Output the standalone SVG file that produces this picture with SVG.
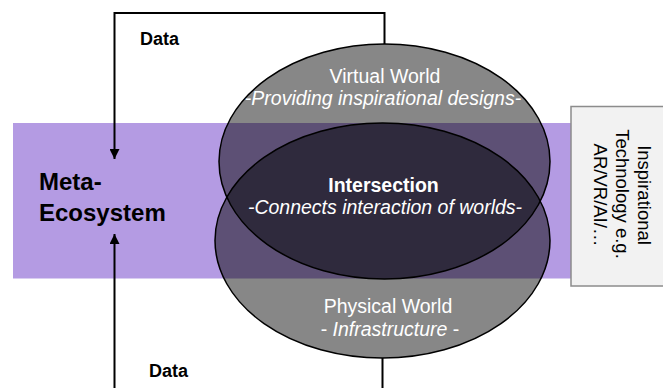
<svg xmlns="http://www.w3.org/2000/svg" width="663" height="388" viewBox="0 0 663 388">
  <style>
    text { font-family: "Liberation Sans", Arial, sans-serif; }
    .lbl { font-size: 18px; font-weight: bold; fill: #000; }
    .meta { font-size: 24px; font-weight: bold; fill: #000; }
    .wt { font-size: 19.5px; fill: #fff; text-anchor: middle; }
    .it { font-style: italic; }
    .bd { font-weight: bold; }
    .box { font-size: 18.5px; fill: #000; text-anchor: middle; }
    .conn { fill: none; stroke: #000; stroke-width: 2; }
    .edge { fill: none; stroke: #000; stroke-width: 1.5; }
  </style>
  <defs>
    <marker id="arrow" markerUnits="userSpaceOnUse" markerWidth="10" markerHeight="10" refX="10" refY="5" orient="auto">
      <path d="M0,0 L10,5 L0,10 z" fill="#000"/>
    </marker>
    <clipPath id="bandClip">
      <rect x="13" y="123" width="558" height="155.5"/>
    </clipPath>
    <clipPath id="topClip">
      <ellipse cx="384.5" cy="161.5" rx="165.5" ry="117.5"/>
    </clipPath>
  </defs>

  <g id="band">
    <rect x="13" y="123" width="558" height="155.5" fill="#b49be3"/>
  </g>

  <g id="tech-box">
    <rect x="571" y="106.5" width="100" height="179.5" fill="#f2f2f2" stroke="#8c8c8c" stroke-width="1.5"/>
    <text class="box" transform="translate(638,195) rotate(90)">Inspirational</text>
    <text class="box" transform="translate(616,194) rotate(90)">Technology e.g.</text>
    <text class="box" transform="translate(594,195) rotate(90)">AR/VR/AI/…</text>
  </g>

  <g id="worlds">
    <ellipse cx="384.5" cy="161.5" rx="165.5" ry="117.5" fill="#878787"/>
    <ellipse cx="382.5" cy="240.5" rx="167.5" ry="117.5" fill="#878787"/>
    <g clip-path="url(#bandClip)">
      <ellipse cx="384.5" cy="161.5" rx="165.5" ry="117.5" fill="#5d5075"/>
      <ellipse cx="382.5" cy="240.5" rx="167.5" ry="117.5" fill="#5d5075"/>
    </g>
    <ellipse clip-path="url(#topClip)" cx="382.5" cy="240.5" rx="167.5" ry="117.5" fill="#2f2a3d"/>
  </g>

  <g id="virtual-world">
    <ellipse class="edge" cx="384.5" cy="161.5" rx="165.5" ry="117.5"/>
    <text class="wt" x="385" y="83">Virtual World</text>
    <text class="wt it" x="383" y="105">-Providing inspirational designs-</text>
  </g>

  <g id="physical-world">
    <ellipse class="edge" cx="382.5" cy="240.5" rx="167.5" ry="117.5"/>
    <text class="wt" x="388" y="313">Physical World</text>
    <text class="wt" x="390" y="336">- <tspan class="it">Infrastructure</tspan> -</text>
  </g>

  <g id="intersection">
    <text class="wt bd" x="383.5" y="192">Intersection</text>
    <text class="wt it" x="385" y="213.5">-Connects interaction of worlds-</text>
  </g>

  <g id="meta-ecosystem">
    <text class="meta" x="39" y="190">Meta-</text>
    <text class="meta" x="39" y="221">Ecosystem</text>
  </g>

  <g id="connectors">
    <path class="conn" d="M384.5,44 V13 H114.5 V159" marker-end="url(#arrow)"/>
    <path class="conn" d="M382.5,358 V395 H114.5 V234" marker-end="url(#arrow)"/>
    <text class="lbl" x="140" y="45">Data</text>
    <text class="lbl" x="149" y="377">Data</text>
  </g>
</svg>
